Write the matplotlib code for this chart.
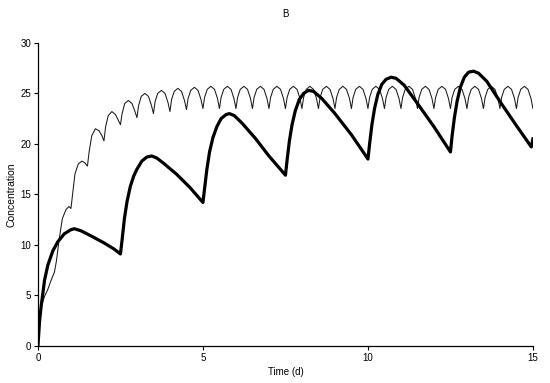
import matplotlib
matplotlib.use("Agg")
import matplotlib.pyplot as plt

plt.rcParams['font.family'] = ['Liberation Sans', 'DejaVu Sans']

# ---------------------------------------------------------
# Werte (Zeit in Tagen, Konzentration)
# ---------------------------------------------------------
# duenne Kurve: Dosis alle 0.5 d
thin_t = [
    0.00, 0.04, 0.10, 0.20, 0.30, 0.40,
    0.50, 0.56, 0.64, 0.74, 0.85, 0.94,
    1.00, 1.05, 1.12, 1.22, 1.33, 1.43,
    1.50, 1.55, 1.63, 1.74, 1.85, 1.94,
    2.00, 2.05, 2.13, 2.24, 2.35, 2.44,
    2.50, 2.55, 2.63, 2.74, 2.85, 2.94,
    3.00, 3.05, 3.13, 3.24, 3.35, 3.44,
    3.50, 3.55, 3.63, 3.74, 3.85, 3.94,
    4.00, 4.05, 4.13, 4.24, 4.35, 4.44,
    4.50, 4.55, 4.63, 4.74, 4.85, 4.94,
    5.00, 5.05, 5.13, 5.24, 5.35, 5.44,
    5.50, 5.55, 5.63, 5.74, 5.85, 5.94,
    6.00, 6.05, 6.13, 6.24, 6.35, 6.44,
    6.50, 6.55, 6.63, 6.74, 6.85, 6.94,
    7.00, 7.05, 7.13, 7.24, 7.35, 7.44,
    7.50, 7.55, 7.63, 7.74, 7.85, 7.94,
    8.00, 8.05, 8.13, 8.24, 8.35, 8.44,
    8.50, 8.55, 8.63, 8.74, 8.85, 8.94,
    9.00, 9.05, 9.13, 9.24, 9.35, 9.44,
    9.50, 9.55, 9.63, 9.74, 9.85, 9.94,
    10.00, 10.05, 10.13, 10.24, 10.35, 10.44,
    10.50, 10.55, 10.63, 10.74, 10.85, 10.94,
    11.00, 11.05, 11.13, 11.24, 11.35, 11.44,
    11.50, 11.55, 11.63, 11.74, 11.85, 11.94,
    12.00, 12.05, 12.13, 12.24, 12.35, 12.44,
    12.50, 12.55, 12.63, 12.74, 12.85, 12.94,
    13.00, 13.05, 13.13, 13.24, 13.35, 13.44,
    13.50, 13.55, 13.63, 13.74, 13.85, 13.94,
    14.00, 14.05, 14.13, 14.24, 14.35, 14.44,
    14.50, 14.55, 14.63, 14.74, 14.85, 14.94,
    15.00,
]
thin_c = [
    0.0, 2.5, 3.9, 4.9, 5.6, 6.5,
    7.3, 8.4, 10.5, 12.6, 13.5, 13.8,
    13.6, 15.0, 17.0, 18.0, 18.3, 18.1,
    17.8, 19.2, 20.8, 21.5, 21.3, 20.8,
    20.3, 21.7, 22.8, 23.2, 22.9, 22.3,
    21.9, 23.0, 24.0, 24.3, 24.0, 23.2,
    22.6, 23.8, 24.7, 25.0, 24.7, 23.8,
    23.0, 24.2, 25.0, 25.3, 25.0, 24.1,
    23.2, 24.4, 25.2, 25.5, 25.2, 24.3,
    23.4, 24.5, 25.3, 25.6, 25.3, 24.4,
    23.5, 24.6, 25.4, 25.7, 25.4, 24.5,
    23.5, 24.6, 25.4, 25.7, 25.4, 24.5,
    23.5, 24.6, 25.4, 25.7, 25.4, 24.5,
    23.5, 24.6, 25.4, 25.7, 25.4, 24.5,
    23.5, 24.6, 25.4, 25.7, 25.4, 24.5,
    23.5, 24.6, 25.4, 25.7, 25.4, 24.5,
    23.5, 24.6, 25.4, 25.7, 25.4, 24.5,
    23.5, 24.6, 25.4, 25.7, 25.4, 24.5,
    23.5, 24.6, 25.4, 25.7, 25.4, 24.5,
    23.5, 24.6, 25.4, 25.7, 25.4, 24.5,
    23.5, 24.6, 25.4, 25.7, 25.4, 24.5,
    23.5, 24.6, 25.4, 25.7, 25.4, 24.5,
    23.5, 24.6, 25.4, 25.7, 25.4, 24.5,
    23.5, 24.6, 25.4, 25.7, 25.4, 24.5,
    23.5, 24.6, 25.4, 25.7, 25.4, 24.5,
    23.5, 24.6, 25.4, 25.7, 25.4, 24.5,
    23.5, 24.6, 25.4, 25.7, 25.4, 24.5,
    23.5, 24.6, 25.4, 25.7, 25.4, 24.5,
    23.5, 24.6, 25.4, 25.7, 25.4, 24.5,
    23.5, 24.6, 25.4, 25.7, 25.4, 24.5,
    23.5,
]

# dicke Kurve: Dosis alle 2.5 d
thick_t = [
    0.00, 0.05, 0.10, 0.20, 0.30, 0.45, 0.60, 0.80, 1.00, 1.10, 1.30, 1.60, 2.00, 2.30,
    2.50, 2.55, 2.62, 2.70, 2.80, 2.90, 3.00, 3.15, 3.30, 3.45, 3.60, 3.80, 4.20, 4.60,
    5.00, 5.05, 5.12, 5.20, 5.30, 5.42, 5.55, 5.70, 5.80, 5.95, 6.20, 6.60, 7.00,
    7.50, 7.55, 7.62, 7.70, 7.80, 7.92, 8.05, 8.20, 8.35, 8.60, 9.00, 9.50,
    10.00, 10.05, 10.12, 10.20, 10.30, 10.42, 10.55, 10.70, 10.85, 11.10, 11.50, 12.00,
    12.50, 12.55, 12.62, 12.70, 12.80, 12.92, 13.05, 13.20, 13.35, 13.60, 14.00, 14.50,
    14.95, 15.00,
]
thick_c = [
    0.0, 2.5, 4.0, 6.5, 8.0, 9.4, 10.3, 11.1, 11.5, 11.6, 11.4, 10.9, 10.2, 9.6,
    9.1, 10.5, 12.6, 14.3, 15.8, 16.8, 17.5, 18.3, 18.7, 18.8, 18.6, 18.1, 17.0, 15.7,
    14.2, 15.6, 17.5, 19.2, 20.6, 21.7, 22.5, 22.9, 23.0, 22.8, 22.0, 20.5, 18.8,
    16.9, 18.4, 20.3, 21.9, 23.3, 24.4, 25.0, 25.3, 25.2, 24.5, 23.0, 20.9,
    18.5, 20.0, 21.9, 23.5, 24.9, 25.9, 26.4, 26.6, 26.5, 25.8, 24.0, 21.7,
    19.2, 20.8, 22.6, 24.2, 25.6, 26.6, 27.1, 27.2, 27.0, 26.2, 24.2, 21.8,
    19.7, 20.5,
]

x_ticks = [0, 5, 10, 15]
y_ticks = [0, 5, 10, 15, 20, 25, 30]

# ---------------------------------------------------------
# Zeichnen
# ---------------------------------------------------------
fig = plt.figure(figsize=(5.5, 3.83), dpi=100)
ax = fig.add_axes([0.069, 0.097, 0.900, 0.791])

ax.plot(thin_t, thin_c, color='#1a1a1a', lw=0.75)
ax.plot(thick_t, thick_c, color='black', lw=2.3, solid_joinstyle='round')

ax.set_xlim(0, 15)
ax.set_ylim(0, 30)
ax.set_xticks(x_ticks)
ax.set_yticks(y_ticks)
ax.tick_params(direction='out', length=3, width=0.8, labelsize=7, pad=2)

for side in ('top', 'right'):
    ax.spines[side].set_visible(False)
for side in ('left', 'bottom'):
    ax.spines[side].set_linewidth(0.9)

ax.set_xlabel("Time (d)", fontsize=7, labelpad=3)
ax.set_ylabel("Concentration", fontsize=7.5, labelpad=2.5)
ax.set_title("B", fontsize=7, pad=19)

fig.savefig("out.png", dpi=100)
